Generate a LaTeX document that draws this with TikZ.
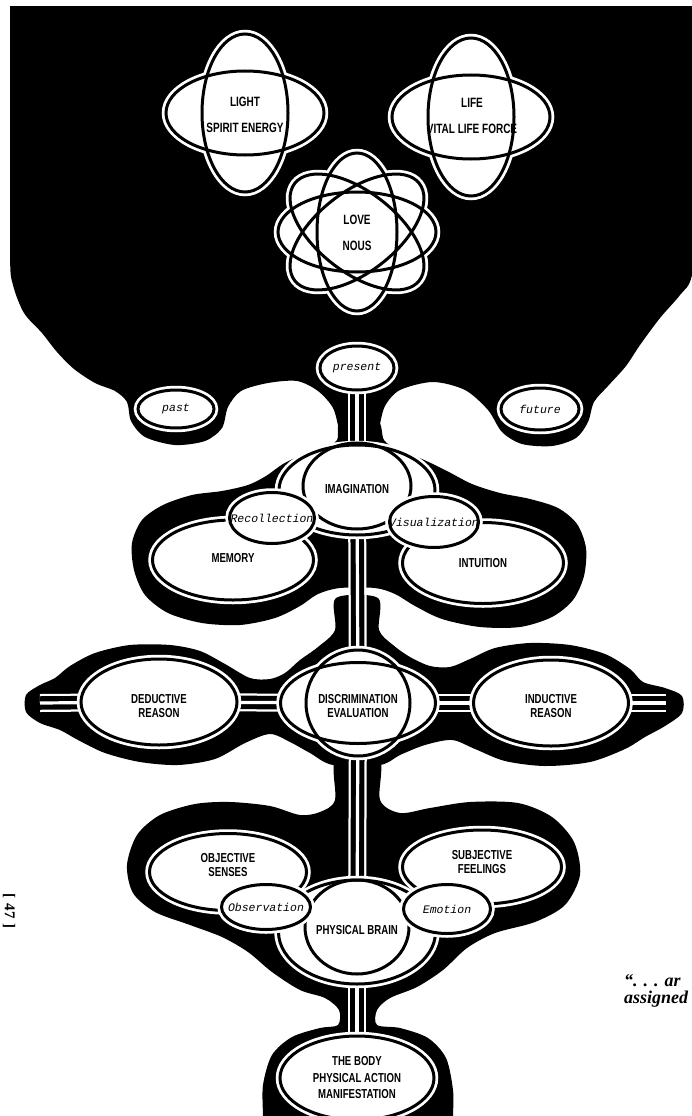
\documentclass[tikz,border=0pt]{standalone}
\usepackage{fontspec}
\usepackage{tikz}
\usetikzlibrary{shapes.geometric}
\setmainfont{Liberation Serif}
\newfontfamily\capsfont[FakeStretch=0.74]{Liberation Sans}
\newfontfamily\typefont{Liberation Mono}
\definecolor{ink}{HTML}{000000}
\definecolor{paper}{HTML}{FFFFFF}
\pgfdeclarelayer{blobs}
\pgfdeclarelayer{links}
\pgfsetlayers{blobs,links,main}

\begin{document}
\begin{tikzpicture}[x=1pt, y=-1pt,
  oval/.style={ellipse, draw=ink, line width=3pt, fill=paper, inner sep=0pt, outer sep=0pt, preaction={draw=paper, line width=8.5pt}},
  halo/.style={draw=paper, line width=8.5pt},
  ring/.style={draw=ink, line width=3pt},
  caplab/.style={font=\capsfont\bfseries\fontsize{13}{14}\selectfont, align=center, inner sep=0pt},
  toplab/.style={font=\capsfont\bfseries\fontsize{13.5}{26}\selectfont, align=center, inner sep=0pt},
  itlab/.style={font=\typefont\itshape\fontsize{11.5}{14}\selectfont, inner sep=0pt},
  link/.style={draw=paper, line width=3.2pt, preaction={draw=paper, line width=18pt}, preaction={draw=ink, line width=13.5pt}}]
\useasboundingbox (0,0) rectangle (692,1116);

% black grounds
\begin{pgfonlayer}{blobs}
  \begin{scope}
    \clip (10,6) rectangle (692,1116);
    \fill[ink] (10,6) rectangle (692,240);
    \fill[ink] plot[smooth cycle] coordinates {(10,100) (10,255) (13,285) (24,313) (42,333) (57,352) (74,369) (95,383) (115,391) (127,402) (131,421) (145,437) (175,445) (205,441) (222,428) (228,407) (241,391) (268,383) (297,381) (318,391) (333,408) (339,430) (342,445) (374,445) (379,428) (385,406) (400,390) (433,382) (465,390) (488,410) (502,432) (522,444) (552,446) (576,438) (588,422) (594,402) (608,386) (626,366) (640,345) (660,318) (680,295) (692,275) (700,200) (600,100) (300,100)};
  \end{scope}
  \fill[ink] plot[smooth cycle] coordinates {(341,420) (337,440) (322,450) (300,456) (283,464) (266,476) (248,485) (222,491) (192,495) (163,505) (142,520) (132,543) (134,570) (145,595) (168,613) (202,623) (240,625) (275,618) (300,606) (318,594) (340,588) (375,588) (395,594) (415,606) (442,619) (480,627) (520,627) (552,617) (573,600) (584,576) (586,548) (577,524) (558,508) (530,499) (500,493) (472,484) (447,471) (422,459) (398,450) (384,440) (377,420)};
  \fill[ink] plot[smooth cycle] coordinates {(336,598) (335,630) (318,647) (300,660) (285,673) (270,679) (250,678) (225,664) (200,651) (170,645) (130,645) (95,653) (70,666) (55,678) (40,685) (26,695) (26,712) (40,723) (60,730) (78,740) (105,753) (140,762) (178,765) (215,759) (245,743) (270,734) (290,742) (310,753) (333,765) (380,765) (400,755) (425,745) (452,740) (475,749) (505,761) (545,766) (590,762) (625,749) (645,737) (665,726) (682,713) (682,696) (665,688) (643,682) (630,669) (605,654) (570,645) (530,643) (495,648) (470,659) (450,667) (430,666) (410,657) (393,645) (379,630) (378,598)};
  \fill[ink] plot[smooth cycle] coordinates {(336,758) (335,800) (320,812) (300,815) (270,806) (230,802) (195,804) (160,815) (137,835) (127,865) (133,893) (155,912) (190,925) (222,937) (248,952) (272,972) (300,990) (325,998) (339,1010) (338,1025) (320,1028) (292,1037) (272,1055) (263,1085) (263,1116) (263,1130) (453,1130) (453,1116) (453,1090) (446,1058) (428,1038) (400,1028) (377,1025) (377,1010) (390,998) (417,987) (443,970) (467,948) (495,933) (535,922) (565,905) (580,875) (574,842) (552,817) (518,803) (470,802) (430,808) (400,813) (380,800) (379,758)};
\end{pgfonlayer}

% atoms
\coordinate (light) at (245,113);
\coordinate (life) at (471,117);
\coordinate (love) at (357,232);
\foreach \c/\r/\a/\b in {light/0/79/42, light/90/79/43, life/0/79/42, life/90/79/43, love/0/79/40, love/90/79/40, love/38/79/40, love/-38/79/40}
  \draw[halo, rotate around={\r:(\c)}] (\c) ellipse [x radius=\a pt, y radius=\b pt];
\foreach \c/\r/\a/\b in {light/0/79/42, light/90/79/43, life/0/79/42, life/90/79/43, love/0/79/40, love/90/79/40, love/38/79/40, love/-38/79/40}
  \fill[paper, rotate around={\r:(\c)}] (\c) ellipse [x radius=\a pt, y radius=\b pt];
\foreach \c/\r/\a/\b in {light/0/79/42, light/90/79/43, life/0/79/42, life/90/79/43, love/0/79/40, love/90/79/40, love/38/79/40, love/-38/79/40}
  \draw[ring, rotate around={\r:(\c)}] (\c) ellipse [x radius=\a pt, y radius=\b pt];
\node[toplab] (lighttext) at (245,115) {LIGHT\\SPIRIT ENERGY};
\node[toplab] (lifetext) at (472,116) {LIFE\\VITAL LIFE FORCE};
\node[toplab] (lovetext) at (357,233) {LOVE\\NOUS};

% time
\node[oval, minimum width=74pt, minimum height=44pt, label={[itlab]center:present}] (present) at (357,368) {};
\node[oval, minimum width=76pt, minimum height=38pt, label={[itlab]center:past}] (past) at (176,409) {};
\node[oval, minimum width=78pt, minimum height=42pt, label={[itlab]center:future}] (future) at (540,409) {};

% mind
\node[oval, minimum width=161pt, minimum height=80pt, label={[caplab, yshift=2pt]center:MEMORY}] (memory) at (233,560) {};
\node[oval, minimum width=161pt, minimum height=81pt, label={[caplab]center:INTUITION}] (intuition) at (483,563) {};
\node[oval, minimum width=156pt, minimum height=90pt] (imag) at (357,490) {};
\draw[ring] (357,486) ellipse [x radius=54pt, y radius=43pt];
\node[caplab] (imagtext) at (357,489) {IMAGINATION};
\node[oval, minimum width=85pt, minimum height=51pt, label={[itlab]center:Recollection}] (recol) at (272,518) {};
\node[oval, minimum width=89pt, minimum height=51pt, label={[itlab]center:Visualization}] (visual) at (434,522) {};

% reason
\draw[halo] (358,703) ellipse [x radius=52pt, y radius=53pt];
\fill[paper] (358,703) ellipse [x radius=52pt, y radius=53pt];
\node[oval, minimum width=156pt, minimum height=86pt, label={[caplab, yshift=-4.5pt]center:DEDUCTIVE\\REASON}] (deduct) at (159,702) {};
\node[oval, minimum width=155pt, minimum height=81pt] (discern) at (358,703) {};
\draw[ring] (358,703) ellipse [x radius=52pt, y radius=53pt];
\node[caplab] (discerntext) at (358,706) {DISCRIMINATION\\EVALUATION};
\node[oval, minimum width=155pt, minimum height=86pt, label={[caplab, yshift=-3.5pt]center:INDUCTIVE\\REASON}] (induct) at (551,703) {};
\coordinate (leftend) at (40,703);
\coordinate (rightend) at (666,703);

% body
\node[oval, minimum width=157pt, minimum height=77pt, label={[caplab, yshift=7pt]center:OBJECTIVE\\SENSES}] (objective) at (228,872) {};
\node[oval, minimum width=159pt, minimum height=74pt, label={[caplab, yshift=5pt]center:SUBJECTIVE\\FEELINGS}] (subjective) at (482,867) {};
\node[oval, minimum width=157pt, minimum height=104pt] (brain) at (357,932) {};
\draw[ring] (357,927) ellipse [x radius=52pt, y radius=47pt];
\node[caplab] (braintext) at (357,930) {PHYSICAL BRAIN};
\node[oval, minimum width=89pt, minimum height=45pt, label={[itlab]center:Observation}] (observe) at (266,907) {};
\node[oval, minimum width=87pt, minimum height=49pt, label={[itlab]center:Emotion}] (emotion) at (447,909) {};
\node[oval, minimum width=154pt, minimum height=84pt, label={[caplab]center:THE BODY\\[2.5pt]PHYSICAL ACTION\\[2.5pt]MANIFESTATION}] (body) at (357,1078) {};

% links
\begin{pgfonlayer}{links}
  \draw[link] (present) -- (imag);
  \draw[link] (imag) -- (discern);
  \draw[link] (discern) -- (brain);
  \draw[link] (brain) -- (body);
  \draw[link] (leftend) -- (deduct);
  \draw[link] (deduct) -- (discern);
  \draw[link] (discern) -- (induct);
  \draw[link] (induct) -- (rightend);
\end{pgfonlayer}

% page margin
\node[rotate=-90, font=\bfseries\fontsize{15}{17}\selectfont, inner sep=0pt] (folio) at (9,911) {[\hspace{5pt}47\hspace{5pt}]};
\node[anchor=base west, font=\bfseries\itshape\fontsize{18}{20}\selectfont, inner sep=0pt] (quote1) at (624,986) {“. . . ar};
\node[anchor=base west, font=\bfseries\itshape\fontsize{18}{20}\selectfont, inner sep=0pt] (quote2) at (624,1003) {assigned};
\end{tikzpicture}
\end{document}
